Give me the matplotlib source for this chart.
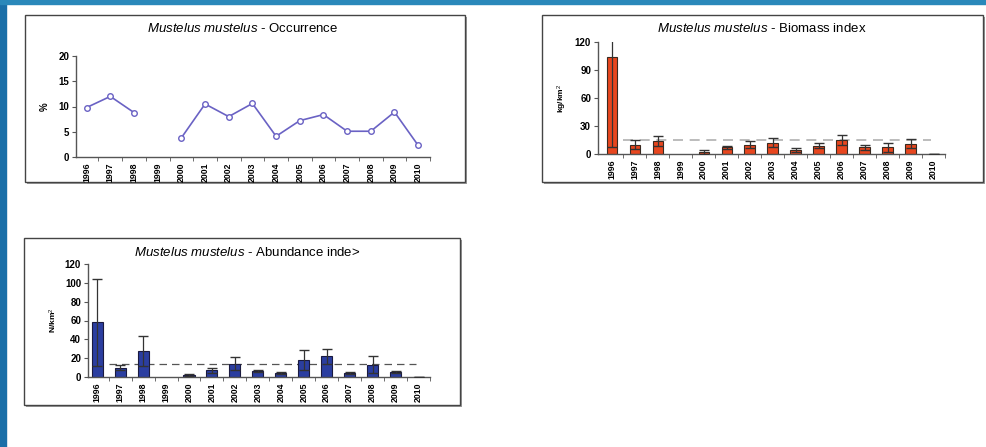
import numpy as np
import matplotlib
matplotlib.use("Agg")
import matplotlib.pyplot as plt
from matplotlib.patches import Rectangle

plt.rcParams['font.family'] = ['Liberation Sans', 'DejaVu Sans']
plt.rcParams['mathtext.fontset'] = 'custom'
plt.rcParams['mathtext.it'] = 'Liberation Sans:italic'
plt.rcParams['mathtext.rm'] = 'Liberation Sans'

# 데이터
years = [str(y) for y in range(1996, 2011)]
occurrence = [9.8, 12.0, 8.8, np.nan, 3.8, 10.5, 8.0, 10.6, 4.1, 7.2, 8.4, 5.1, 5.1, 8.9, 2.3]
biomass = [104, 10, 14, np.nan, 2, 7, 10, 12, 4, 9, 15, 7, 7, 11, 0.5]
biomass_err = [97, 5, 5, 0, 2, 2, 4, 5, 2, 3, 5, 3, 5, 5, 0]
biomass_mean = 15
abundance = [58, 10, 28, np.nan, 2, 7, 14, 6, 4, 18, 22, 4, 13, 5, 0.5]
abundance_err = [46, 3, 16, 0, 1, 3, 7, 1, 1, 11, 8, 1, 9, 1, 0]
abundance_mean = 14

W, H = 987, 447
fig = plt.figure(figsize=(W / 100, H / 100), dpi=100)


def fx(px):
    return px / W


def fy(py):
    return 1 - py / H


# 슬라이드 테두리 (파란 띠)
fig.patches.append(Rectangle((0, 0), fx(6), 1, transform=fig.transFigure,
                             color='#1a6fa8', zorder=0))
fig.patches.append(Rectangle((0, fy(4)), 1, 4 / H, transform=fig.transFigure,
                             color='#2a88ba', zorder=0))


def frame(x0, y0, x1, y1):
    fig.patches.append(Rectangle((fx(x0 + 2), fy(y1 + 2)), fx(x1 - x0), (y1 - y0) / H,
                                 transform=fig.transFigure, facecolor='#9a9a9a',
                                 edgecolor='none', zorder=1))
    fig.patches.append(Rectangle((fx(x0), fy(y1)), fx(x1 - x0), (y1 - y0) / H,
                                 transform=fig.transFigure, facecolor='white',
                                 edgecolor='#444444', linewidth=1.0, zorder=2))


def title(xc, yc, name):
    fig.text(fx(xc), fy(yc), r"$\mathit{Mustelus\ mustelus}$ - " + name,
             ha='center', va='center', fontsize=9.5, zorder=5)


def style_axes(ax, n, x0):
    ax.set_facecolor('none')
    ax.set_zorder(4)
    for s in ['top', 'right']:
        ax.spines[s].set_visible(False)
    for s in ['left', 'bottom']:
        ax.spines[s].set_color('#555555')
        ax.spines[s].set_linewidth(1.0)
    ax.set_xlim(x0, n - 0.5)
    ax.set_xticks(range(n))
    ax.set_xticklabels(years, rotation=90, fontsize=6.3, fontweight='bold')
    ax.set_xticks(np.arange(n) + 0.5, minor=True)
    ax.tick_params(axis='x', which='major', length=0, pad=4)
    ax.tick_params(axis='x', which='minor', length=3, color='#555555', direction='out')
    ax.tick_params(axis='y', length=3, color='#555555', labelsize=7, pad=2)
    for lb in ax.get_yticklabels():
        lb.set_fontweight('bold')


n = len(years)
x = np.arange(n)

# 1) Occurrence
frame(25, 15, 465, 182)
title(243, 28, 'Occurrence')
ax1 = fig.add_axes([fx(76), fy(157), fx(430 - 76), (157 - 56) / H])
ax1.plot(x, occurrence, color='#6a62c4', linewidth=1.2, marker='o', markersize=4,
         markerfacecolor='white', markeredgecolor='#6a62c4', markeredgewidth=1.0)
ax1.set_ylim(0, 20)
ax1.set_yticks([0, 5, 10, 15, 20])
style_axes(ax1, n, -0.45)
ax1.set_ylabel('%', fontsize=7, fontweight='bold', labelpad=6)

# 2) Biomass index
frame(542, 15, 983, 182)
title(762, 28, 'Biomass index')
ax2 = fig.add_axes([fx(598), fy(154), fx(945 - 598), (154 - 42) / H])
ax2.plot([0.5, 13.9], [biomass_mean, biomass_mean], color='#b0b0b0', linestyle=(0, (6, 4)),
         linewidth=1.2, zorder=1)
ax2.bar(x, biomass, width=0.45, color='#e8461e', edgecolor='#3a2a20', linewidth=0.8, zorder=2)
ax2.errorbar(x, biomass, yerr=biomass_err, fmt='none', ecolor='#333333', elinewidth=0.9,
             capsize=3.5, capthick=1.0, zorder=3)
ax2.set_ylim(0, 120)
ax2.set_yticks([0, 30, 60, 90, 120])
style_axes(ax2, n, -0.6)
ax2.set_ylabel('kg/km$^\\mathrm{2}$', fontsize=6, fontweight='bold', labelpad=4)

# 3) Abundance index
frame(24, 238, 460, 405)
title(247, 252, 'Abundance inde>')
ax3 = fig.add_axes([fx(88), fy(377), fx(430 - 88), (377 - 264) / H])
ax3.plot([0.5, 13.9], [abundance_mean, abundance_mean], color='#555555', linestyle=(0, (6, 4)),
         linewidth=0.9, zorder=1)
ax3.bar(x, abundance, width=0.48, color='#2b3ea0', edgecolor='#1a1a40', linewidth=0.8, zorder=2)
ax3.errorbar(x, abundance, yerr=abundance_err, fmt='none', ecolor='#333333', elinewidth=0.9,
             capsize=3.5, capthick=1.0, zorder=3)
ax3.set_ylim(0, 120)
ax3.set_yticks([0, 20, 40, 60, 80, 100, 120])
style_axes(ax3, n, -0.4)
ax3.set_ylabel('N/km$^\\mathrm{2}$', fontsize=6, fontweight='bold', labelpad=4)

fig.savefig('out.png', dpi=100, facecolor='white')
